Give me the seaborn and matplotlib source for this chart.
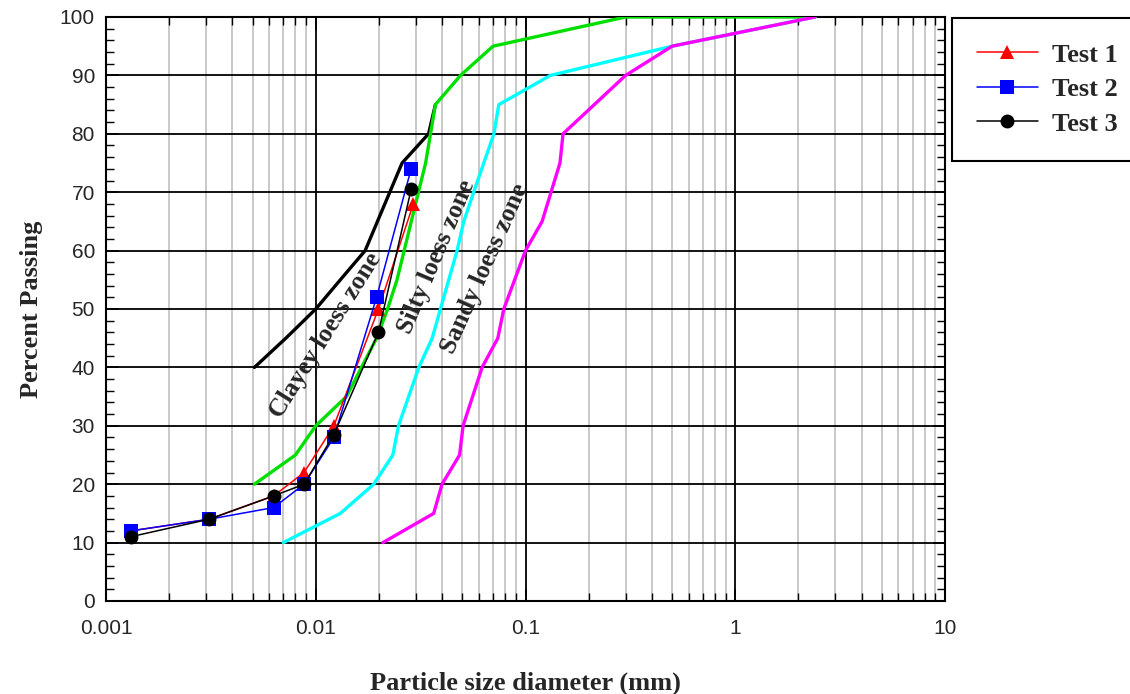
import numpy as np
import pandas as pd
import matplotlib
matplotlib.use("Agg")
import matplotlib.pyplot as plt
import seaborn as sns
from matplotlib.ticker import FixedLocator, FuncFormatter, MultipleLocator, LogLocator

# ---- data ----
test_d = [0.00131, 0.0031, 0.0063, 0.0088, 0.0122, 0.0199, 0.0292]
test1 = [12, 14, 18, 22, 30, 50, 68]
test2_d = [0.00131, 0.0031, 0.0063, 0.0088, 0.0122, 0.0195, 0.0285]
test2 = [12, 14, 16, 20, 28, 52, 74]
test3_d = [0.00131, 0.0031, 0.0063, 0.0088, 0.0122, 0.0199, 0.0285]
test3 = [11, 14, 18, 20, 28.5, 46, 70.5]

clay_d = [0.0051, 0.0072, 0.0100, 0.0131, 0.0172, 0.0258, 0.0345, 0.0372]
clay_p = [40, 45, 50, 55, 60, 75, 80, 85]

green_d = [0.0051, 0.0080, 0.0100, 0.0140, 0.0195, 0.0220, 0.0244, 0.0334, 0.0372, 0.049, 0.070, 0.30, 2.4]
green_p = [20, 25, 30, 35, 45, 50, 55, 75, 85, 90, 95, 100, 100]

cyan_d = [0.0070, 0.0131, 0.0189, 0.0233, 0.0248, 0.0310, 0.0359, 0.0393, 0.0472, 0.0508, 0.0566, 0.0707, 0.0746, 0.1315, 0.50, 2.4]
cyan_p = [10, 15, 20, 25, 30, 40, 45, 50, 60, 65, 70, 80, 85, 90, 95, 100]

mag_d = [0.0209, 0.0365, 0.0400, 0.0485, 0.0504, 0.0621, 0.0738, 0.0788, 0.100, 0.120, 0.146, 0.151, 0.30, 0.50, 2.4]
mag_p = [10, 15, 20, 25, 30, 40, 45, 50, 60, 65, 75, 80, 90, 95, 100]

xticks = [0.001, 0.01, 0.1, 1, 10]
xtick_labels = ["0.001", "0.01", "0.1", "1", "10"]

zones = pd.concat([
    pd.DataFrame({"d": clay_d, "p": clay_p, "zone": "clay"}),
    pd.DataFrame({"d": green_d, "p": green_p, "zone": "green"}),
    pd.DataFrame({"d": cyan_d, "p": cyan_p, "zone": "cyan"}),
    pd.DataFrame({"d": mag_d, "p": mag_p, "zone": "mag"}),
])
tests = pd.concat([
    pd.DataFrame({"d": test_d, "p": test1, "test": "Test 1"}),
    pd.DataFrame({"d": test2_d, "p": test2, "test": "Test 2"}),
    pd.DataFrame({"d": test3_d, "p": test3, "test": "Test 3"}),
])

sns.set_style("white")
serif = ["Liberation Serif", "DejaVu Serif"]
plt.rcParams["font.family"] = ["Liberation Sans", "DejaVu Sans"]

fig = plt.figure(figsize=(11.3, 6.94), dpi=100)
ax = fig.add_axes([106 / 1130, 93 / 694, 839 / 1130, 584 / 694])

zone_colors = {"clay": "#000000", "green": "#00E000", "cyan": "#00FFFF", "mag": "#FF00FF"}
sns.lineplot(data=zones, x="d", y="p", hue="zone", palette=zone_colors, sort=False,
             estimator=None, units="zone", lw=2.4, legend=False, ax=ax, zorder=3)

test_colors = {"Test 1": "#FF0000", "Test 2": "#0000FF", "Test 3": "#000000"}
test_markers = {"Test 1": "^", "Test 2": "s", "Test 3": "o"}
sns.lineplot(data=tests, x="d", y="p", hue="test", style="test", palette=test_colors,
             markers=test_markers, dashes=False, sort=False, estimator=None,
             lw=1.1, markersize=10, markeredgewidth=0, ax=ax, zorder=4)

ax.set_xscale("log")
ax.set_xlim(0.001, 10)
ax.set_ylim(0, 100)
ax.xaxis.set_major_locator(FixedLocator(xticks))
ax.xaxis.set_major_formatter(FuncFormatter(lambda v, pos: xtick_labels[xticks.index(v)] if v in xticks else ""))
ax.xaxis.set_minor_locator(LogLocator(base=10, subs=np.arange(2, 10)))
ax.xaxis.set_minor_formatter(FuncFormatter(lambda v, pos: ""))
ax.yaxis.set_major_locator(MultipleLocator(10))
ax.yaxis.set_minor_locator(MultipleLocator(2))

ax.grid(which="major", axis="both", color="black", lw=1.3, zorder=1)
ax.grid(which="minor", axis="x", color="#c0c0c0", lw=1.2, zorder=0)
ax.set_axisbelow(True)
ax.tick_params(which="both", direction="in", top=True, right=True, bottom=True, left=True,
               color="black", labelsize=15)
ax.tick_params(which="major", length=9, width=1.2)
ax.tick_params(which="minor", length=6, width=1.0)
ax.tick_params(axis="x", which="major", pad=13)
ax.tick_params(axis="y", which="major", pad=8)
for s in ax.spines.values():
    s.set_color("black")
    s.set_linewidth(1.5)

ax.set_xlabel("Particle size diameter (mm)", fontsize=19, fontweight="bold", family=serif, labelpad=24)
ax.set_ylabel("Percent Passing", fontsize=19, fontweight="bold", family=serif, labelpad=12)

txt_kw = dict(fontsize=18.5, fontweight="bold", family=serif, ha="center", va="center",
              rotation_mode="anchor", zorder=5)
ax.text(0.0112, 45.5, "Clayey loess zone", rotation=58, **txt_kw)
ax.text(0.0375, 59.0, "Silty loess zone", rotation=67, **txt_kw)
ax.text(0.0640, 57.0, "Sandy loess zone", rotation=66, **txt_kw)

handles, labels = ax.get_legend_handles_labels()
leg = fig.legend(handles, labels, loc="upper left", bbox_to_anchor=(952 / 1130, 1 - 18 / 694),
                 frameon=True, fancybox=False, edgecolor="black", framealpha=1,
                 prop={"family": serif, "weight": "bold", "size": 19},
                 handlelength=2.3, handletextpad=0.55, borderpad=0.95, labelspacing=0.42,
                 borderaxespad=0)
leg.get_frame().set_linewidth(1.5)
if ax.get_legend() is not None:
    ax.get_legend().remove()

fig.savefig("out.png", dpi=100)
